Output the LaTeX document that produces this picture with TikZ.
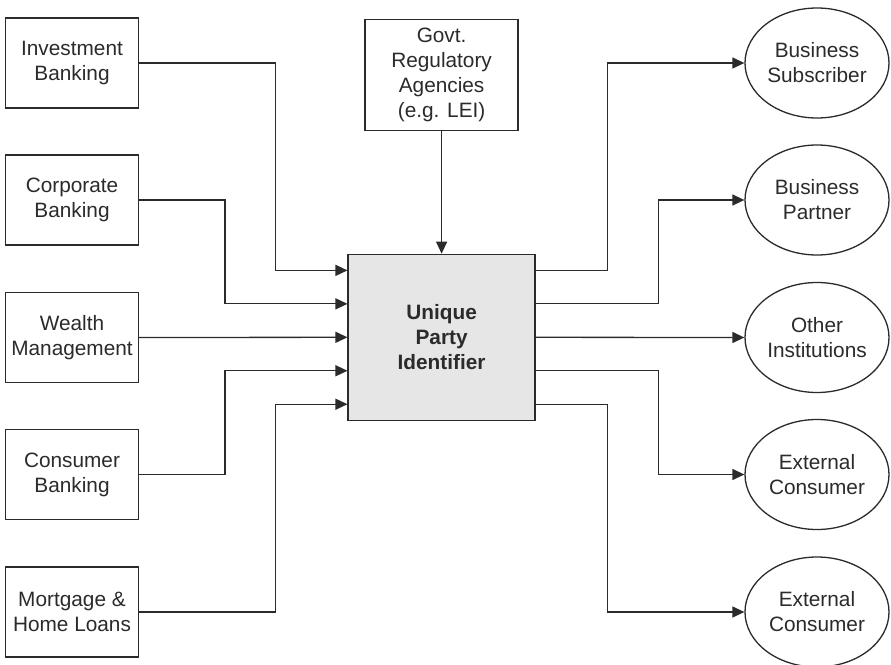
\documentclass[tikz,border=0pt]{standalone}
\usepackage{fontspec}
\setmainfont{Liberation Sans}
\usetikzlibrary{arrows.meta,calc,shapes.geometric}
\definecolor{ink}{HTML}{2B2B2B}
\definecolor{boxfill}{HTML}{E6E6E6}
\begin{document}
\begin{tikzpicture}[x=1pt,y=-1pt,
  txt/.style={font=\fontsize{20.8}{25}\selectfont, text=ink, align=center},
  srcbox/.style={txt, draw=ink, line width=1.3pt, rectangle, inner sep=0pt, minimum width=133pt, minimum height=90pt},
  govbox/.style={txt, draw=ink, line width=1.3pt, rectangle, inner sep=0pt, minimum width=153pt, minimum height=111pt},
  hub/.style={txt, font=\fontsize{20.8}{25}\selectfont\bfseries, draw=ink, fill=boxfill, line width=1.3pt, rectangle, inner sep=0pt, minimum width=187pt, minimum height=166pt},
  sink/.style={txt, draw=ink, line width=1.3pt, ellipse, inner sep=0pt, minimum width=144pt, minimum height=110pt},
  conn/.style={draw=ink, line width=1.3pt},
  arr/.style={conn, -{Triangle[length=12pt,width=11pt]}}
]
\useasboundingbox (0,0) rectangle (891,664);
\fill[white] (0,0) rectangle (891,664);

% left source boxes
\node[srcbox] (ib) at (72,63)    {Investment\\Banking};
\node[srcbox] (cb) at (72,200)   {Corporate\\Banking};
\node[srcbox] (wm) at (72,337.5) {Wealth\\Management};
\node[srcbox] (cn) at (72,474.5) {Consumer\\Banking};
\node[srcbox] (mh) at (72,612)   {Mortgage \&\\Home Loans};

% government box
\node[govbox] (gov) at (441.6,74.7) {Govt.\\Regulatory\\Agencies\\(e.g. LEI)};

% hub
\node[hub] (hub) at (441.6,337.3) {Unique\\Party\\Identifier};

% right ellipses
\node[sink] (bs) at (817,63)    {Business\\Subscriber};
\node[sink] (bp) at (817,200)   {Business\\Partner};
\node[sink] (oi) at (817,337.5) {Other\\Institutions};
\node[sink] (ec1) at (817,474.5) {External\\Consumer};
\node[sink] (ec2) at (817,612)   {External\\Consumer};

% ports on hub
\foreach \i/\f in {1/0.1,2/0.3,3/0.5,4/0.7,5/0.9}{
  \coordinate (in\i) at ($(hub.north west)!\f!(hub.south west)$);
  \coordinate (out\i) at ($(hub.north east)!\f!(hub.south east)$);
}
% elbow columns
\coordinate (xa) at (275.7,0);
\coordinate (xb) at (225,0);
\coordinate (xc) at (607.7,0);
\coordinate (xd) at (658.3,0);

% inputs
\draw[arr] (ib.east) -- (xa |- ib.east) -- (xa |- in1) -- (in1);
\draw[arr] (cb.east) -- (xb |- cb.east) -- (xb |- in2) -- (in2);
\draw[arr] (wm.east) -- (in3);
\draw[arr] (cn.east) -- (xb |- cn.east) -- (xb |- in4) -- (in4);
\draw[arr] (mh.east) -- (xa |- mh.east) -- (xa |- in5) -- (in5);
\draw[arr] (gov.south) -- (hub.north);

% outputs
\draw[arr] (out1) -- (xc |- out1) -- (xc |- bs.west) -- (bs.west);
\draw[arr] (out2) -- (xd |- out2) -- (xd |- bp.west) -- (bp.west);
\draw[arr] (out3) -- (oi.west);
\draw[arr] (out4) -- (xd |- out4) -- (xd |- ec1.west) -- (ec1.west);
\draw[arr] (out5) -- (xc |- out5) -- (xc |- ec2.west) -- (ec2.west);
\end{tikzpicture}
\end{document}
